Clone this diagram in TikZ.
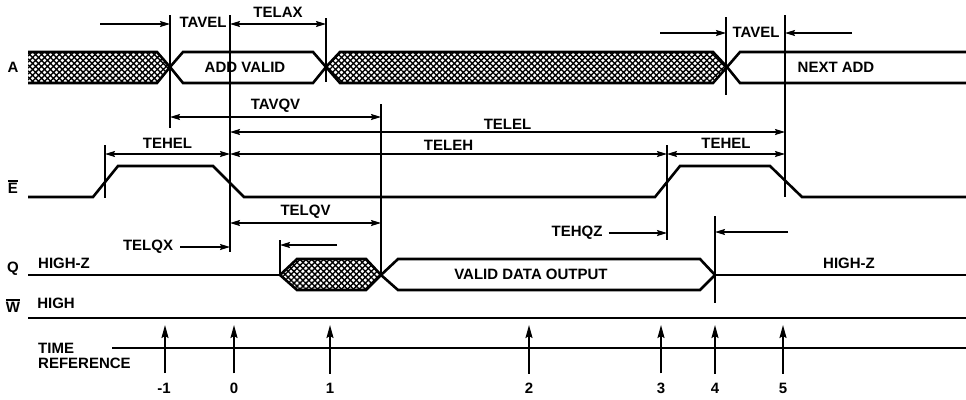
\documentclass[tikz,border=0pt]{standalone}
\usepackage{fontspec}
\setmainfont{Liberation Sans}
\usetikzlibrary{arrows.meta,patterns.meta}
\newcommand{\barred}[1]{\vbox{\hrule height 1.3pt\kern1.6pt\hbox{#1}}}

\begin{document}
\begin{tikzpicture}[x=1pt,y=-1pt,
        sigline/.style={line width=2.6pt},
        markline/.style={line width=1.8pt},
        dimarrow/.style={line width=1.4pt,{Stealth[length=10pt,width=6pt,inset=1.5pt]}-{Stealth[length=10pt,width=6pt,inset=1.5pt]}},
        onearrow/.style={line width=1.4pt,-{Stealth[length=10pt,width=6pt,inset=1.5pt]}},
        refarrow/.style={line width=1.8pt,-{Stealth[length=13pt,width=7pt,inset=2pt]}},
        hatched/.style={pattern={Lines[angle=45,distance=4.2pt,line width=1.4pt]},
            postaction={pattern={Lines[angle=-45,distance=4.2pt,line width=1.4pt]}}},
        lbl/.style={font=\bfseries\fontsize{15}{15}\selectfont, inner sep=1pt}]
        \useasboundingbox (0,0) rectangle (966,399);
        % signal names
        \node[lbl] (nameA) at (13,67) {A};
        \node[lbl] (nameE) at (13,187) {\barred{E}};
        \node[lbl] (nameQ) at (13,269) {Q};
        \node[lbl] (nameW) at (13,306) {\barred{W}};
        % A
        \fill[hatched] (28,52) -- (157,52) -- (170,67) -- (157,83) -- (28,83) -- cycle;
        \draw[sigline] (28,52) -- (157,52) -- (170,67) -- (157,83) -- (28,83);
        \draw[sigline] (170,67) -- (183,52) -- (313,52) -- (326,67) -- (313,83) -- (183,83) -- cycle;
        \node[lbl] (addvalid) at (245,67) {ADD VALID};
        \draw[sigline,hatched] (326,67) -- (340,52) -- (713,52) -- (727,67) -- (713,83) -- (340,83) -- cycle;
        \draw[sigline] (966,52) -- (740,52) -- (727,67) -- (740,83) -- (966,83);
        \node[lbl] (nextadd) at (836,67) {NEXT ADD};
        % E
        \draw[sigline] (28,197) -- (93,197) -- (118,166) -- (213,166) -- (244,197) -- (655,197)
            -- (680,166) -- (770,166) -- (802,197) -- (966,197);
        % Q
        \draw[sigline] (28,275) -- (280,275);
        \draw[sigline,hatched] (280,275) -- (297,259) -- (366,259) -- (381,275) -- (366,290) -- (297,290) -- cycle;
        \draw[sigline] (381,275) -- (398,259) -- (700,259) -- (715,275) -- (700,290) -- (398,290) -- cycle;
        \draw[sigline] (715,275) -- (966,275);
        \node[lbl] (highzA) at (64,263) {HIGH-Z};
        \node[lbl] (validout) at (531,274) {VALID DATA OUTPUT};
        \node[lbl] (highzB) at (849,263) {HIGH-Z};
        % W
        \draw[sigline] (28,318) -- (966,318);
        \node[lbl] (high) at (56,303) {HIGH};
        % time markers
        \draw[markline] (170,15) -- (170,128);
        \draw[markline] (230,15) -- (230,252);
        \draw[markline] (326,18) -- (326,82);
        \draw[markline] (381,104) -- (381,275);
        \draw[markline] (726,17) -- (726,95);
        \draw[markline] (785,15) -- (785,197);
        \draw[markline] (105,145) -- (105,198);
        \draw[markline] (667,145) -- (667,240);
        \draw[markline] (280,240) -- (280,275);
        \draw[markline] (715,216) -- (715,303);
        % timing parameters
        \coordinate (tavelA) at (100,24);
        \coordinate (tavelB) at (170,24);
        \draw[onearrow] (tavelA) -- (tavelB);
        \node[lbl] (tavelone) at (203,22) {TAVEL};
        \coordinate (telaxA) at (230,24);
        \coordinate (telaxB) at (326,24);
        \draw[dimarrow] (telaxA) -- node[lbl,above=5pt] (telax) {TELAX} (telaxB);
        \coordinate (tavelC) at (660,33);
        \coordinate (tavelD) at (726,33);
        \coordinate (tavelE) at (852,33);
        \coordinate (tavelF) at (785,33);
        \draw[onearrow] (tavelC) -- (tavelD);
        \draw[onearrow] (tavelE) -- (tavelF);
        \node[lbl] (taveltwo) at (756,32) {TAVEL};
        \coordinate (tavqvA) at (170,117);
        \coordinate (tavqvB) at (381,117);
        \draw[dimarrow] (tavqvA) -- node[lbl,above=3pt] (tavqv) {TAVQV} (tavqvB);
        \coordinate (telelA) at (230,132);
        \coordinate (telelB) at (785,132);
        \draw[dimarrow] (telelA) -- node[lbl,above=1pt] (telel) {TELEL} (telelB);
        \coordinate (tehelA) at (105,154);
        \coordinate (tehelB) at (230,154);
        \draw[dimarrow] (tehelA) -- node[lbl,above=4pt] (tehelone) {TEHEL} (tehelB);
        \coordinate (telehB) at (667,154);
        \draw[dimarrow] (tehelB) -- node[lbl,above=2pt] (teleh) {TELEH} (telehB);
        \coordinate (tehelC) at (785,154);
        \draw[dimarrow] (telehB) -- node[lbl,above=4pt] (teheltwo) {TEHEL} (tehelC);
        \coordinate (telqvA) at (230,223);
        \coordinate (telqvB) at (381,223);
        \draw[dimarrow] (telqvA) -- node[lbl,above=3pt] (telqv) {TELQV} (telqvB);
        \node[lbl] (telqx) at (148,247) {TELQX};
        \coordinate (telqxB) at (230,247);
        \draw[onearrow] (telqx.east) ++(6pt,0) -- (telqxB);
        \node[lbl] (tehqz) at (577,233) {TEHQZ};
        \coordinate (tehqzB) at (667,233);
        \draw[onearrow] (tehqz.east) ++(5pt,0) -- (tehqzB);
        \coordinate (qxA) at (337,245);
        \coordinate (qxB) at (280,245);
        \draw[onearrow] (qxA) -- (qxB);
        \coordinate (qzA) at (788,232);
        \coordinate (qzB) at (715,232);
        \draw[onearrow] (qzA) -- (qzB);
        % time reference
        \node[lbl,anchor=west,align=left] (timeref) at (37,356) {TIME\\REFERENCE};
        \coordinate (refA) at (112,348);
        \coordinate (refB) at (966,348);
        \draw[sigline] (refA) -- (refB);
        \node[lbl] (tm) at (164,388) {-1};
        \node[lbl] (t0) at (234,388) {0};
        \node[lbl] (t1) at (330,388) {1};
        \node[lbl] (t2) at (529,388) {2};
        \node[lbl] (t3) at (661,388) {3};
        \node[lbl] (t4) at (715,388) {4};
        \node[lbl] (t5) at (783,388) {5};
        \coordinate (am) at (165,325);
        \coordinate (a0) at (234,325);
        \coordinate (a1) at (330,325);
        \coordinate (a2) at (529,325);
        \coordinate (a3) at (661,325);
        \coordinate (a4) at (715,325);
        \coordinate (a5) at (783,325);
        \draw[refarrow] (165,373) -- (am);
        \draw[refarrow] (t0.north) ++(0,-8) -- (a0);
        \draw[refarrow] (t1.north) ++(0,-8) -- (a1);
        \draw[refarrow] (t2.north) ++(0,-8) -- (a2);
        \draw[refarrow] (t3.north) ++(0,-8) -- (a3);
        \draw[refarrow] (t4.north) ++(0,-8) -- (a4);
        \draw[refarrow] (t5.north) ++(0,-8) -- (a5);
\end{tikzpicture}
\end{document}
